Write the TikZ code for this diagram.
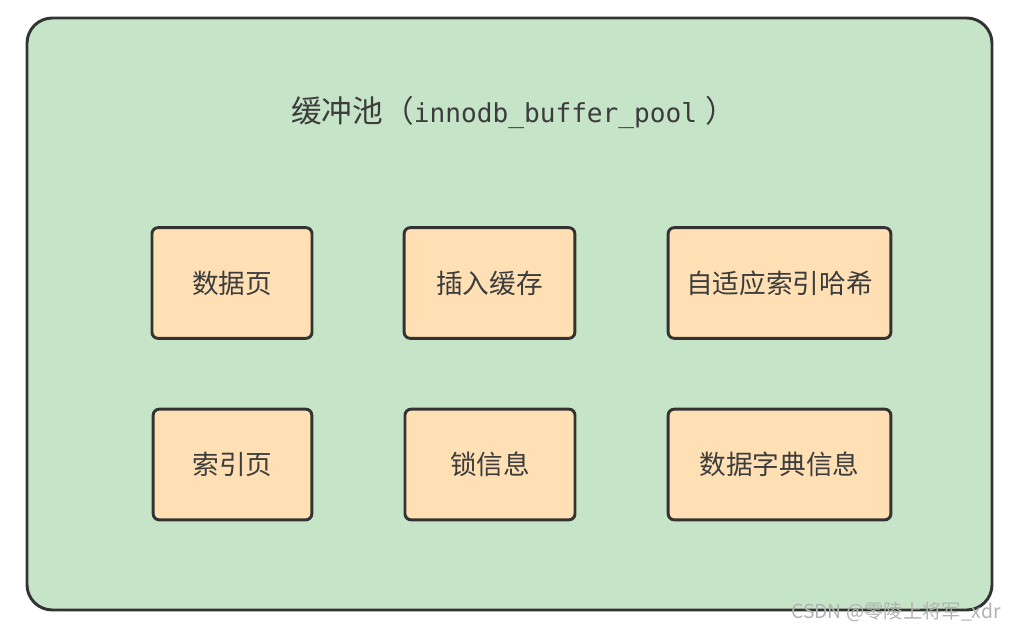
\documentclass[tikz,border=0pt]{standalone}
\usepackage{fontspec}
\setmainfont{Noto Sans CJK SC}
\newfontfamily\monofont{DejaVu Sans Mono}
\usepackage{tikz}
\usetikzlibrary{positioning}
\definecolor{poolgreen}{RGB}{198,229,200}
\definecolor{boxorange}{RGB}{255,224,180}
\definecolor{edgegray}{RGB}{51,51,51}
\definecolor{txtgray}{RGB}{60,60,60}

\begin{document}
\begin{tikzpicture}[x=0.75pt,y=-0.75pt,
    part/.style={draw=edgegray,line width=2.2pt,rounded corners=4.5pt,fill=boxorange,minimum height=83pt,text=txtgray,font=\fontsize{20}{24}\selectfont,inner sep=0pt}]
    \useasboundingbox (0,0) rectangle (1016,631);
    \node[draw=edgegray,line width=2.2pt,rounded corners=19pt,fill=poolgreen,minimum width=723.75pt,minimum height=444pt,inner sep=0pt] (pool) at (509.5,314) {};
    \node[text=txtgray,font=\fontsize{23}{26}\selectfont,anchor=west,inner sep=0pt] (title) at (291,112) {缓冲池（{\monofont\fontsize{19.6}{24}\selectfont innodb\_buffer\_pool}\hspace{6pt}）};
    % first row
    \node[part,minimum width=120pt] (dp) at (232,283) {数据页};
    \node[part,minimum width=128pt] (ib) at (489.5,283) {插入缓存};
    \node[part,minimum width=167pt] (ah) at (779.5,283) {自适应索引哈希};
    % second row
    \node[part,minimum width=119pt] (ip) at (232.5,464.5) {索引页};
    \node[part,minimum width=127.5pt] (li) at (490,464.5) {锁信息};
    \node[part,minimum width=167pt] (dd) at (779.5,464.5) {数据字典信息};
    \node[text=gray!60,font=\fontsize{14.5}{16}\selectfont,anchor=east,inner sep=0pt] (mark) at (1001,612) {CSDN @零陵上将军\_xdr};
\end{tikzpicture}
\end{document}
